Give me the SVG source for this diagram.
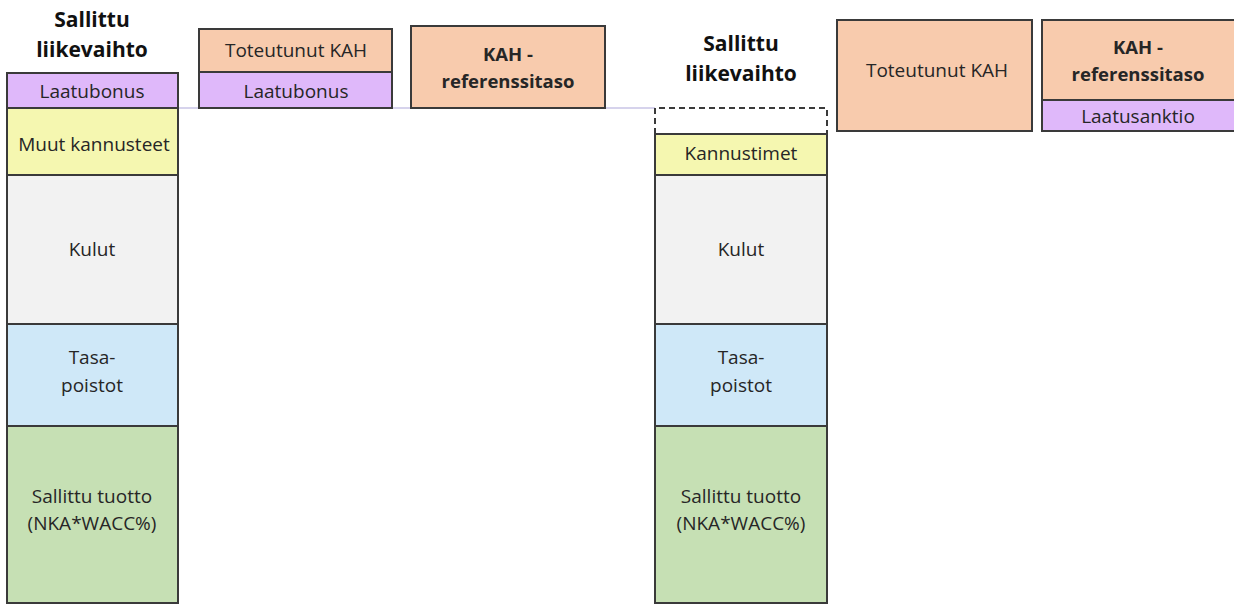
<svg xmlns="http://www.w3.org/2000/svg" width="1234" height="604" viewBox="0 0 1234 604">
<style>
.b{stroke:#3a3a3a;stroke-width:2}
.t{font-family:"Open Sans","Liberation Sans",sans-serif;font-size:19px;fill:#262626;text-anchor:middle;dominant-baseline:central}
.h{font-family:"Open Sans","Liberation Sans",sans-serif;font-size:21px;font-weight:bold;fill:#111;text-anchor:middle;dominant-baseline:central}
.tb{font-weight:bold;font-size:18.5px}
.pu{fill:#DFB8FA}.ye{fill:#F5F7B0}.gr{fill:#F2F2F2}.bl{fill:#CFE8F8}.gn{fill:#C6E0B4}.pe{fill:#F8CBAD}
</style>
<rect width="1234" height="604" fill="#fff"/>
<g id="connectors">
<line x1="178" y1="108" x2="655" y2="108" stroke="#c8c4e6" stroke-width="1.5"/>
</g>
<g id="title-left"><text class="h" x="92" y="19">Sallittu</text><text class="h" x="92" y="49">liikevaihto</text></g>
<g id="left-laatubonus"><rect class="b pu" x="7" y="73" width="171" height="35"/><text class="t" x="92" y="91">Laatubonus</text></g>
<g id="left-muut"><rect class="b ye" x="7" y="108" width="171" height="67"/><text class="t" x="94" y="144">Muut kannusteet</text></g>
<g id="left-kulut"><rect class="b gr" x="7" y="175" width="171" height="149"/><text class="t" x="92" y="249">Kulut</text></g>
<g id="left-poistot"><rect class="b bl" x="7" y="324" width="171" height="102"/><text class="t" x="92" y="357">Tasa-</text><text class="t" x="92" y="385">poistot</text></g>
<g id="left-tuotto"><rect class="b gn" x="7" y="426" width="171" height="177"/><text class="t" x="92" y="496">Sallittu tuotto</text><text class="t" x="92" y="523">(NKA*WACC%)</text></g>
<g id="kah1"><rect class="b pe" x="199" y="29" width="193" height="43"/><text class="t" x="296" y="50">Toteutunut KAH</text></g>
<g id="kah1-bonus"><rect class="b pu" x="199" y="72" width="193" height="36"/><text class="t" x="296" y="91">Laatubonus</text></g>
<g id="kahref1"><rect class="b pe" x="411" y="26" width="194" height="82"/><text class="t tb" x="508" y="53">KAH -</text><text class="t tb" x="508" y="80">referenssitaso</text></g>
<g id="title-right"><text class="h" x="741" y="43">Sallittu</text><text class="h" x="741" y="73">liikevaihto</text></g>
<g id="right-dashed"><path d="M655,134 V108 H827 V134" fill="none" stroke="#3a3a3a" stroke-width="2" stroke-dasharray="6,4"/></g>
<g id="right-kannustimet"><rect class="b ye" x="655" y="134" width="172" height="41"/><text class="t" x="741" y="153">Kannustimet</text></g>
<g id="right-kulut"><rect class="b gr" x="655" y="175" width="172" height="149"/><text class="t" x="741" y="249">Kulut</text></g>
<g id="right-poistot"><rect class="b bl" x="655" y="324" width="172" height="102"/><text class="t" x="741" y="357">Tasa-</text><text class="t" x="741" y="385">poistot</text></g>
<g id="right-tuotto"><rect class="b gn" x="655" y="426" width="172" height="177"/><text class="t" x="741" y="496">Sallittu tuotto</text><text class="t" x="741" y="523">(NKA*WACC%)</text></g>
<g id="kah2"><rect class="b pe" x="837" y="20" width="195" height="111"/><text class="t" x="937" y="70">Toteutunut KAH</text></g>
<g id="kahref2"><rect class="b pe" x="1042" y="20" width="195" height="80"/><text class="t tb" x="1138" y="46">KAH -</text><text class="t tb" x="1138" y="73">referenssitaso</text></g>
<g id="kahref2-sanktio"><rect class="b pu" x="1042" y="100" width="195" height="31"/><text class="t" x="1138" y="116">Laatusanktio</text></g>
</svg>
